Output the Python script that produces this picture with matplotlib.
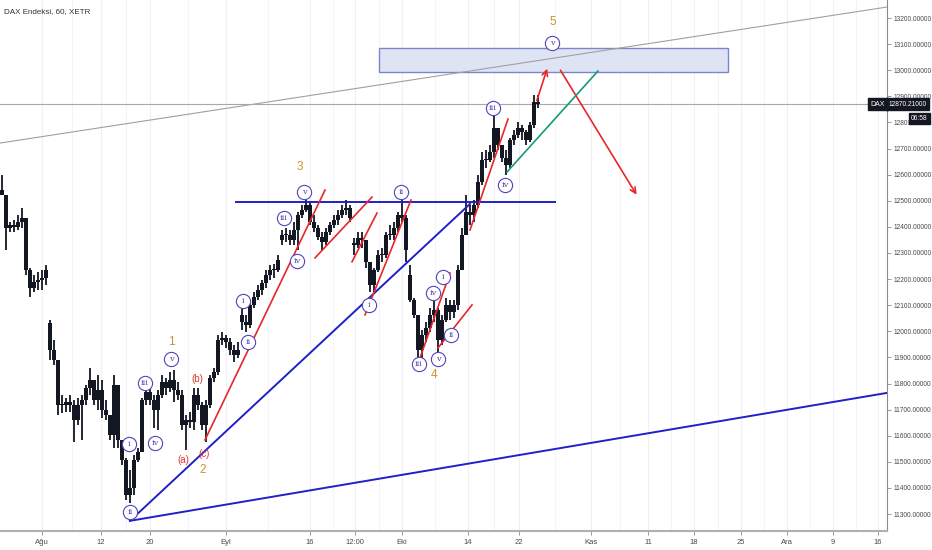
import matplotlib
matplotlib.use('Agg')
import matplotlib.pyplot as plt
from matplotlib.patches import Rectangle
import matplotlib.transforms as mtransforms
import numpy as np

plt.rcParams['font.family'] = ['Liberation Sans', 'DejaVu Sans']

TITLE = "DAX Endeksi, 60, XETR"
SYMBOL = "DAX"
CURRENT_PRICE = 12870.21
COUNTDOWN = "06:58"

# ---- candle data (hourly DAX, sampled), open = previous close unless gap ----
FIRST_OPEN = 12541
CLOSE = [12522, 12396, 12407, 12400, 12419, 12434, 12235, 12166, 12189, 12197,
         12204, 12235, 11928, 11890, 11718, 11718, 11729, 11718, 11660, 11718,
         11737, 11783, 11814, 11737, 11775, 11699, 11680, 11603, 11794, 11584,
         11507, 11373, 11400, 11507, 11538, 11737, 11768, 11737, 11699, 11756,
         11806, 11783, 11814, 11775, 11756, 11641, 11660, 11653, 11756, 11718,
         11641, 11718, 11821, 11844, 11967, 11974, 11959, 11928, 11909, 11928,
         12036, 12024, 12101, 12131, 12158, 12185, 12216, 12235, 12235, 12273,
         12369, 12369, 12350, 12388, 12446, 12465, 12484, 12419, 12396, 12361,
         12342, 12380, 12407, 12426, 12446, 12465, 12472, 12434, 12331, 12357,
         12350, 12266, 12177, 12235, 12292, 12292, 12369, 12369, 12396, 12446,
         12434, 12311, 12120, 12063, 11928, 11986, 12013, 12063, 12082, 11967,
         12043, 12101, 12074, 12101, 12235, 12369, 12457, 12446, 12484, 12572,
         12656, 12656, 12687, 12779, 12714, 12664, 12637, 12733, 12752, 12779,
         12763, 12733, 12790, 12878, 12871]
HIGH = [12599, 12503, 12419, 12426, 12446, 12472, 12434, 12243, 12216, 12227,
        12235, 12254, 12043, 11967, 11852, 11756, 11745, 11756, 11737, 11745,
        11756, 11794, 11860, 11814, 11833, 11814, 11737, 11680, 11833, 11794,
        11584, 11515, 11469, 11526, 11553, 11745, 11794, 11783, 11756, 11775,
        11833, 11821, 11844, 11852, 11806, 11775, 11680, 11691, 11783, 11783,
        11729, 11737, 11833, 11860, 11986, 11997, 11986, 11974, 11948, 11959,
        12089, 12063, 12120, 12151, 12177, 12197, 12235, 12254, 12258, 12292,
        12388, 12396, 12388, 12419, 12457, 12484, 12511, 12495, 12446, 12407,
        12380, 12396, 12419, 12446, 12465, 12484, 12503, 12484, 12357, 12380,
        12380, 12350, 12266, 12243, 12311, 12319, 12380, 12407, 12419, 12457,
        12530, 12446, 12254, 12128, 12063, 12005, 12036, 12089, 12120, 12089,
        12063, 12128, 12120, 12120, 12254, 12396, 12522, 12484, 12503, 12599,
        12687, 12694, 12714, 12840, 12779, 12714, 12694, 12740, 12771, 12802,
        12790, 12771, 12802, 12905, 12905]
LOW = [12522, 12311, 12380, 12380, 12388, 12396, 12216, 12131, 12151, 12158,
       12158, 12177, 11890, 11871, 11680, 11687, 11691, 11691, 11576, 11641,
       11584, 11718, 11756, 11718, 11699, 11668, 11660, 11584, 11553, 11553,
       11488, 11354, 11342, 11373, 11500, 11557, 11718, 11718, 11630, 11622,
       11745, 11756, 11768, 11729, 11737, 11622, 11545, 11630, 11622, 11699,
       11622, 11576, 11706, 11806, 11833, 11948, 11936, 11909, 11883, 11898,
       12005, 11997, 12013, 12089, 12120, 12139, 12166, 12197, 12204, 12227,
       12331, 12342, 12331, 12331, 12311, 12434, 12457, 12407, 12380, 12350,
       12311, 12331, 12369, 12396, 12407, 12434, 12446, 12419, 12292, 12319,
       12319, 12243, 12151, 12151, 12227, 12266, 12281, 12350, 12350, 12380,
       12419, 12266, 12112, 12051, 11890, 11883, 11959, 11997, 12036, 11921,
       11948, 12036, 12043, 12051, 12082, 12243, 12369, 12407, 12419, 12472,
       12560, 12626, 12649, 12664, 12694, 12649, 12599, 12626, 12714, 12740,
       12733, 12714, 12725, 12779, 12855]
GAP_OPENS = {12: 12032, 60: 12063, 70: 12350, 88: 12338, 102: 12216}

# ---- x axis (time) tick labels ----
XTICK_POS = [42, 101, 150, 226, 310, 355, 402, 468, 519, 591, 648, 694, 741, 787, 833, 878]
XTICK_LAB = ["Ağu", "12", "20", "Eyl", "16", "12:00", "Eki", "14", "22", "Kas",
             "11", "18", "25", "Ara", "9", "16"]
YTICKS = list(range(11300, 13201, 100))

# ---- drawings: (x1, price1, x2, price2) ----
GRAY_LINE = (0, 12721, 887, 13242)
BLUE_LINES = [(130, 11274, 887, 11764), (130, 11274, 470, 12488), (236, 12495, 555, 12495)]
RED_LINES = [(205, 11584, 325, 12541), (315, 12281, 372, 12514), (352, 12266, 377, 12453),
             (365, 12063, 411, 12503), (420, 11898, 450, 12223), (438, 11936, 472, 12101),
             (470, 12388, 508, 12813)]
RED_ARROWS = [(536, 12874, 548, 13016), (559, 13009, 638, 12514)]
GREEN_LINE = (507, 12610, 598, 12997)
TARGET_BOX = (379, 728, 12993, 13085)

# ---- wave labels ----
MAJOR_LABELS = [("1", 171, 11959), ("2", 203, 11469), ("3", 300, 12629), ("4", 434, 11833), ("5", 553, 13185)]
ABC_LABELS = [("(a)", 183, 11507), ("(b)", 197, 11817), ("(c)", 204, 11530)]
MINOR_LABELS = [("i", 129, 11569), ("ii", 130, 11308), ("iii", 145, 11802), ("iv", 155, 11572), ("v", 171, 11894),
                ("i", 243, 12116), ("ii", 248, 11959), ("iii", 284, 12434), ("iv", 297, 12269), ("v", 304, 12534),
                ("i", 369, 12101), ("ii", 401, 12534), ("iii", 419, 11875),
                ("iv", 433, 12147), ("i", 443, 12208), ("v", 438, 11894), ("ii", 451, 11986),
                ("iii", 493, 12855), ("iv", 505, 12560), ("v", 552, 13104)]

W, H = 932, 550
fig = plt.figure(figsize=(W / 100, H / 100), dpi=100)
fig.patch.set_facecolor('white')
ax = fig.add_axes([0, 19 / H, 887 / W, 531 / H])
ax.set_xlim(0, 887)
ax.set_ylim(11235, 13269)

BAR_STEP = 4
n = len(CLOSE)
xs = np.arange(n) * BAR_STEP + 2
opens = [FIRST_OPEN] + CLOSE[:-1]
for k, v in GAP_OPENS.items():
    opens[k] = v
opens = np.array(opens, float)
closes = np.array(CLOSE, float)
ink = '#131722'
ax.vlines(xs, LOW, HIGH, color=ink, lw=1.3, zorder=3)
bottoms = np.minimum(opens, closes)
heights = np.maximum(np.abs(closes - opens), 4)
ax.bar(xs, heights, bottom=bottoms, width=3.1, color=ink, zorder=3, linewidth=0)

# grid (vertical faint)
for gx in XTICK_POS:
    ax.axvline(gx, color='#eef0f6', lw=0.8, zorder=0)
for a, b in zip(XTICK_POS[:-1], XTICK_POS[1:]):
    ax.axvline((a + b) / 2, color='#f3f4f8', lw=0.8, zorder=0)

# target box
x0, x1, p0, p1 = TARGET_BOX
ax.add_patch(Rectangle((x0, p0), x1 - x0, p1 - p0, facecolor='#dfe4f4', edgecolor='#7b86c6', lw=1.0, zorder=1))

# lines
ax.plot([GRAY_LINE[0], GRAY_LINE[2]], [GRAY_LINE[1], GRAY_LINE[3]], color='#a0a0a0', lw=0.8, zorder=2)
for l in BLUE_LINES:
    ax.plot([l[0], l[2]], [l[1], l[3]], color='#2020c8', lw=1.4, zorder=4)
for l in RED_LINES:
    ax.plot([l[0], l[2]], [l[1], l[3]], color='#e8262a', lw=1.2, zorder=4)
for l in RED_ARROWS:
    ax.annotate('', xy=(l[2], l[3]), xytext=(l[0], l[1]),
                arrowprops=dict(arrowstyle='->', color='#e8262a', lw=1.2, mutation_scale=10), zorder=4)
ax.plot([GREEN_LINE[0], GREEN_LINE[2]], [GREEN_LINE[1], GREEN_LINE[3]], color='#169a77', lw=1.2, zorder=4)

# current price line
ax.axhline(CURRENT_PRICE, color='#a8a8a8', lw=0.8, zorder=2)

# labels
orange = '#c8942c'
for t, x, p in MAJOR_LABELS:
    ax.text(x, p, t, color=orange, fontsize=8.5, ha='center', va='center', zorder=6)
for t, x, p in ABC_LABELS:
    ax.text(x, p, t, color='#e03434', fontsize=7, ha='center', va='center', zorder=6)
purple = '#5146b8'
for t, x, p in MINOR_LABELS:
    ax.scatter([x], [p], s=105, facecolor='white', edgecolor=purple, lw=0.8, zorder=6)
    ax.text(x, p, t, color=purple, fontsize=6, ha='center', va='center', zorder=7,
            family=['DejaVu Serif', 'DejaVu Sans'])

# axes styling
for s in ['top', 'left']:
    ax.spines[s].set_visible(False)
ax.spines['right'].set_color('#8a8a8a')
ax.spines['bottom'].set_color('#b0b0b0')
ax.spines['bottom'].set_linewidth(1.5)
ax.yaxis.tick_right()
ax.set_yticks(YTICKS)
ax.set_yticklabels([f"{v:.5f}" for v in YTICKS])
ax.tick_params(axis='y', length=3, width=0.6, color='#8a8a8a', labelsize=4.8, labelcolor='#4a4a4a', pad=1.5)
ax.set_xticks(XTICK_POS)
ax.set_xticklabels(XTICK_LAB)
ax.tick_params(axis='x', length=3, width=0.6, color='#8a8a8a', labelsize=5.5, labelcolor='#4a4a4a', pad=3)

# price tags on axis
tr = mtransforms.blended_transform_factory(ax.transAxes, ax.transData)
ax.text(1.002, CURRENT_PRICE, f"{CURRENT_PRICE:.5f}", transform=tr, ha='left', va='center', fontsize=4.8,
        color='white', zorder=10, clip_on=False,
        bbox=dict(boxstyle='square,pad=0.35', fc='#131722', ec='#131722'))
ax.text(0.998, CURRENT_PRICE, SYMBOL, transform=tr, ha='right', va='center', fontsize=5,
        color='white', zorder=10, clip_on=False,
        bbox=dict(boxstyle='square,pad=0.35', fc='#131722', ec='#131722'))
ax.text(1.046, CURRENT_PRICE - 55, COUNTDOWN, transform=tr, ha='right', va='center', fontsize=4.8,
        color='white', zorder=10, clip_on=False,
        bbox=dict(boxstyle='square,pad=0.3', fc='#131722', ec='#131722'))

fig.text(4 / W, 1 - 12 / H, TITLE, fontsize=5.8, color='#333333', ha='left', va='center')

fig.savefig('out.png', dpi=100, facecolor='white')
